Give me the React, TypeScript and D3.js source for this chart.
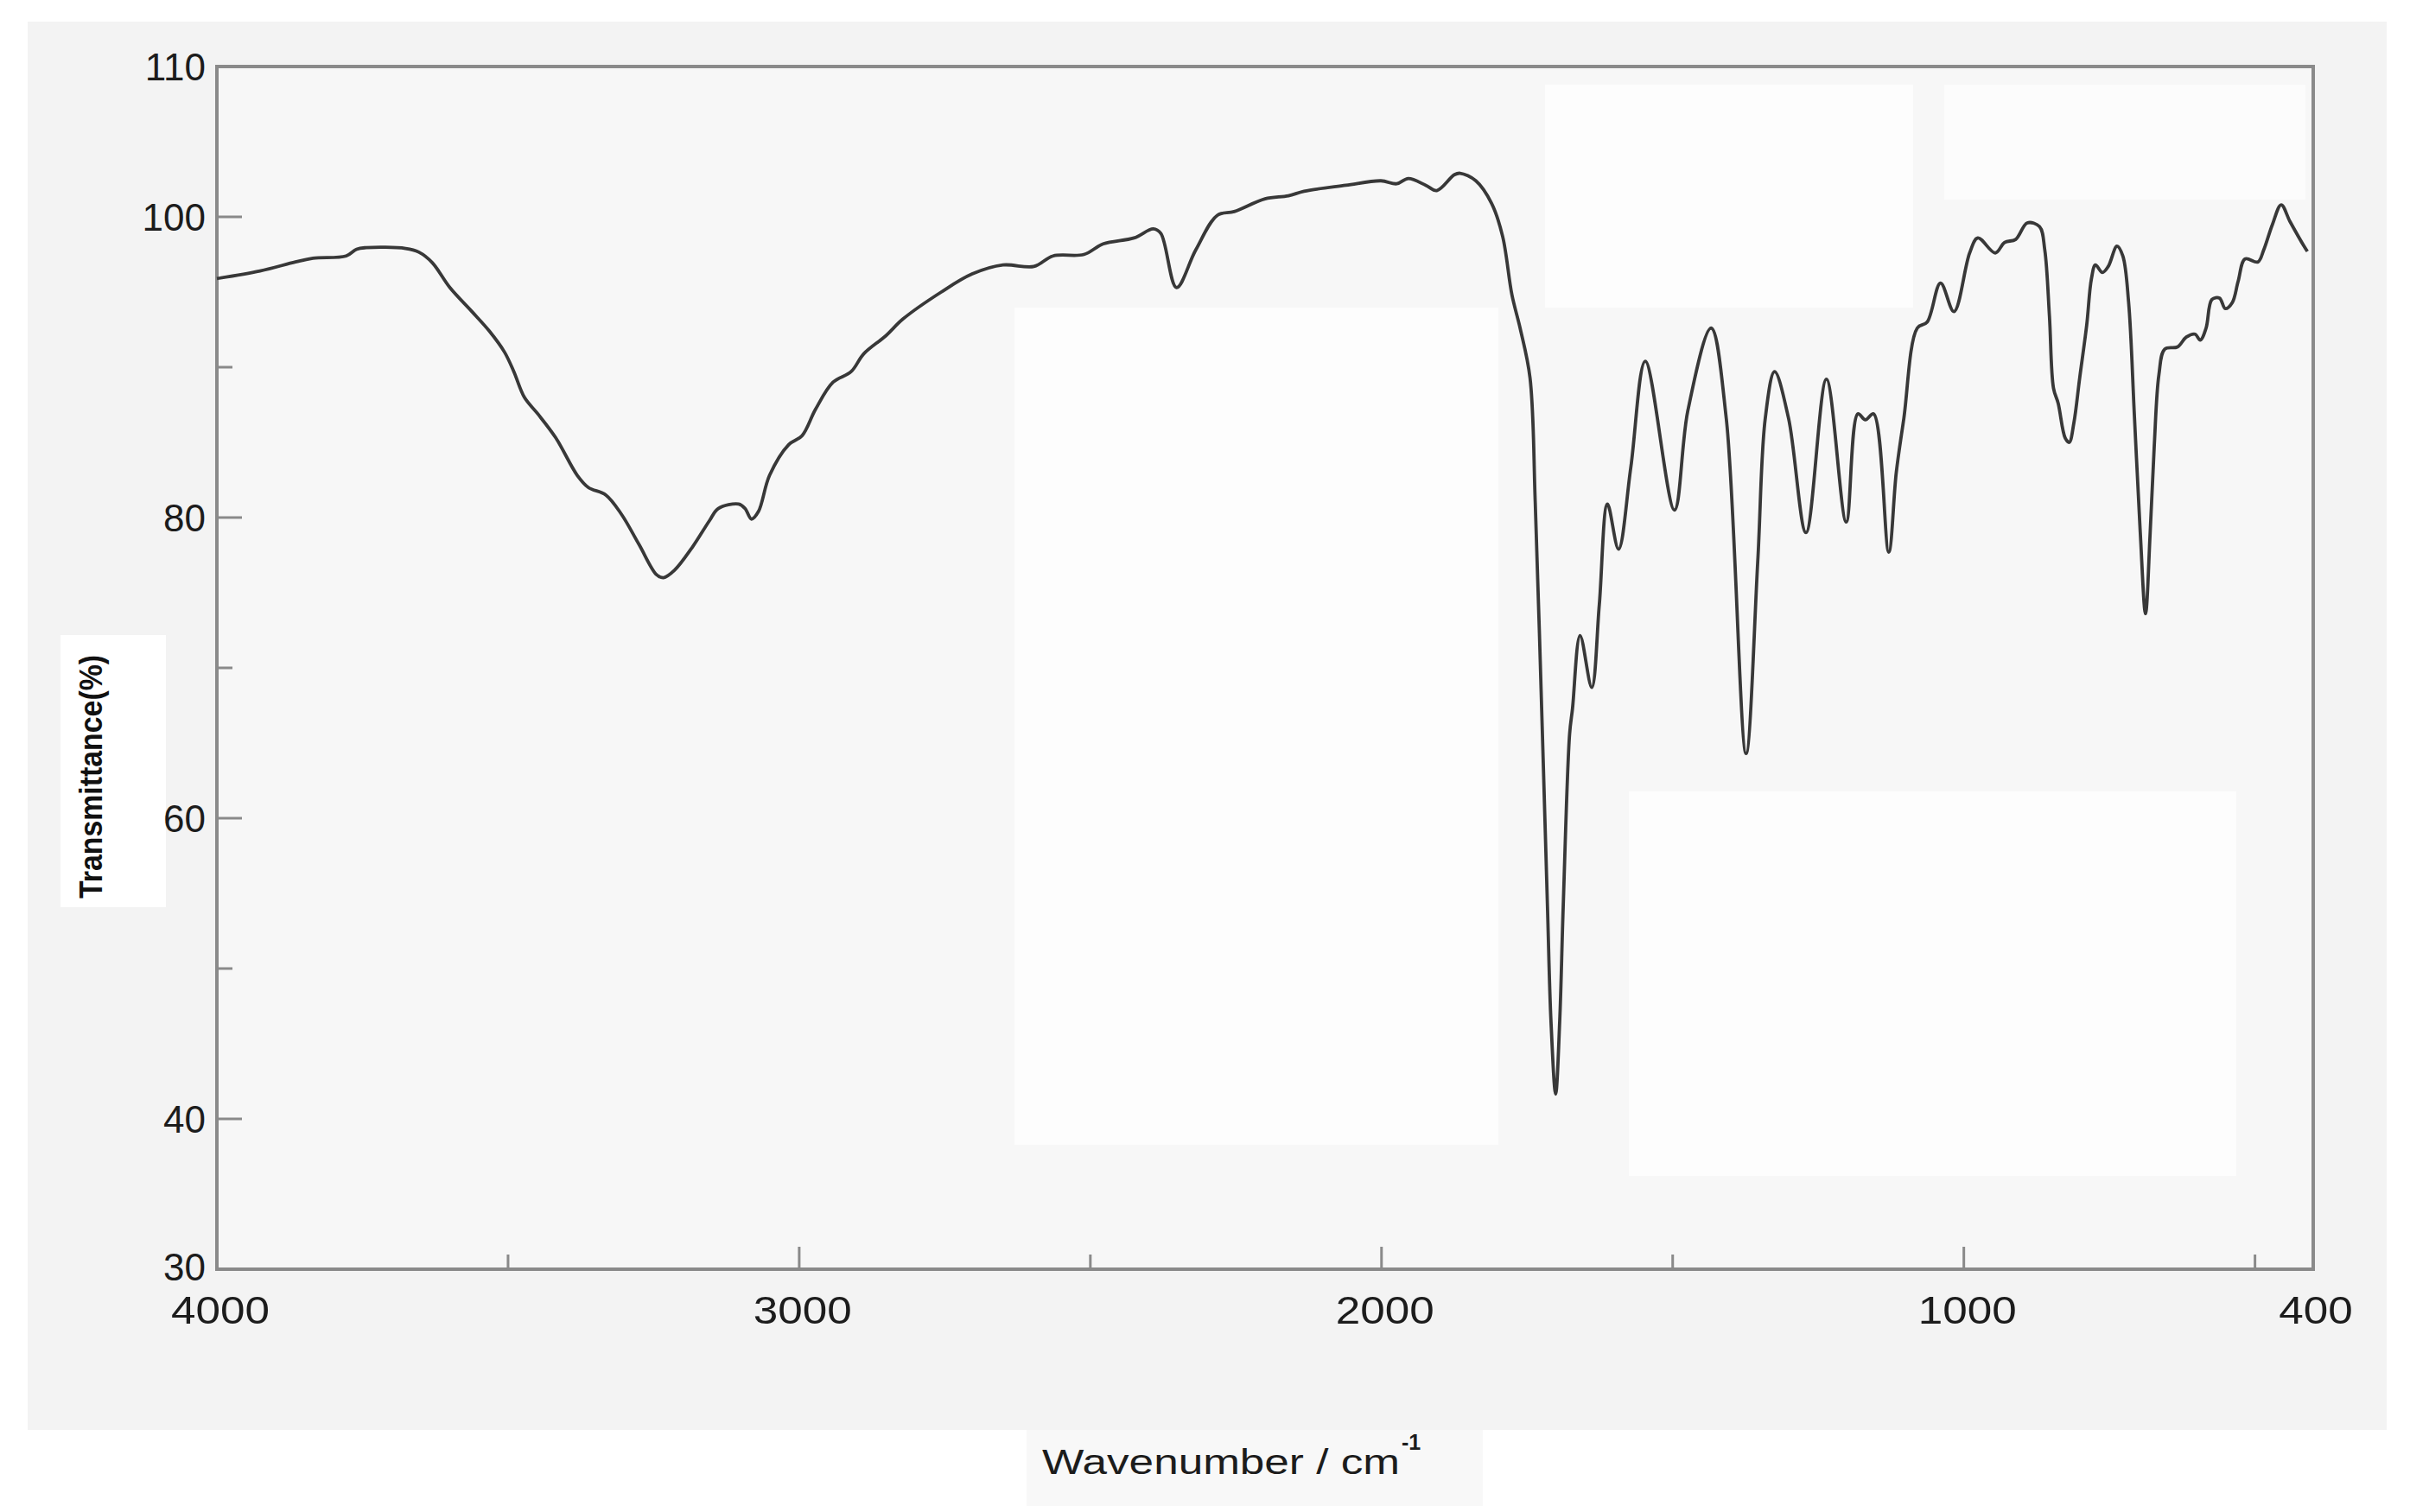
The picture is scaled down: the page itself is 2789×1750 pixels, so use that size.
import React from 'react';
import * as d3 from 'd3';

// IR spectrum (wavenumber in cm^-1, transmittance in %)
const WAVENUMBER = [
  4000, 3926, 3865, 3835, 3778, 3760, 3744, 3676, 3653, 3630,
  3600, 3562, 3532, 3506, 3490, 3472, 3449, 3418, 3381, 3362,
  3332, 3305, 3275, 3245, 3233, 3214, 3184, 3154, 3139, 3104,
  3093, 3082, 3070, 3051, 3018, 2995, 2972, 2942, 2911, 2889,
  2851, 2822, 2756, 2703, 2650, 2597, 2564, 2511, 2478, 2425,
  2392, 2379, 2352, 2319, 2282, 2253, 2200, 2160, 2133, 2061,
  2001, 1974, 1954, 1924, 1905, 1875, 1865, 1838, 1811, 1792,
  1776, 1762, 1745, 1736, 1725, 1715, 1709, 1701, 1694, 1688,
  1677, 1672, 1659, 1639, 1626, 1612, 1593, 1572, 1547, 1497,
  1474, 1434, 1408, 1374, 1354, 1341, 1325, 1301, 1271, 1236,
  1202, 1182, 1169, 1155, 1129, 1116, 1103, 1080, 1063, 1040,
  1017, 990, 976, 946, 930, 911, 891, 870, 861, 853,
  846, 838, 826, 819, 811, 801, 789, 781, 774, 762,
  752, 737, 727, 717, 707, 697, 688, 680, 673, 665,
  655, 633, 618, 603, 594, 584, 574, 561, 551, 539,
  529, 517, 495, 485, 470, 455, 440, 415, 410,
];

const TRANSMITTANCE = [
  95.9, 96.4, 97.0, 97.25, 97.4, 97.85, 97.95, 97.9, 97.65, 96.95,
  95.3, 93.7, 92.4, 91.0, 89.7, 88.0, 86.9, 85.3, 82.8, 82.0,
  81.5, 80.2, 78.2, 76.2, 76.0, 76.5, 78.0, 79.8, 80.6, 80.9,
  80.6, 79.9, 80.4, 82.8, 84.85, 85.45, 87.2, 89.0, 89.7, 90.9,
  92.1, 93.2, 95.0, 96.2, 96.8, 96.7, 97.4, 97.5, 98.2, 98.6,
  99.2, 98.9, 95.3, 97.8, 100.1, 100.35, 101.2, 101.4, 101.7, 102.1,
  102.4, 102.2, 102.55, 102.1, 101.75, 102.8, 102.9, 102.4, 100.9, 98.7,
  94.8, 92.6, 89.3, 81.0, 67.3, 54.1, 46.5, 41.65, 46.5, 54.1,
  65.6, 67.3, 72.15, 68.7, 74.2, 80.9, 77.9, 83.3, 90.4, 80.5,
  87.1, 92.6, 86.6, 64.3, 77.0, 86.6, 89.7, 86.6, 79.0, 89.2,
  79.7, 86.9, 86.5, 86.9, 77.7, 83.0, 86.6, 92.6, 93.0, 95.6,
  93.7, 97.6, 98.6, 97.6, 98.3, 98.5, 99.6, 99.35, 97.8, 93.4,
  88.6, 87.6, 85.3, 85.0, 86.3, 89.3, 92.8, 95.85, 96.8, 96.3,
  96.7, 98.05, 97.4, 94.3, 86.7, 79.0, 73.6, 79.0, 84.75, 89.5,
  91.2, 91.35, 92.0, 92.2, 91.8, 92.6, 94.5, 94.6, 93.9, 94.3,
  95.7, 97.2, 97.0, 97.8, 99.5, 100.8, 99.7, 98.0, 97.7,
];

const X_LABELS = [4000, 3000, 2000, 1000, 400];
const X_MAJOR_TICKS = [3000, 2000, 1000];
const X_MINOR_TICKS = [3500, 2500, 1500, 500];
const Y_LABELS = [110, 100, 80, 60, 40, 30];
const Y_MAJOR_TICKS = [100, 80, 60, 40];
const Y_MINOR_TICKS = [90, 70, 50];

const X_TITLE = 'Wavenumber / cm';
const X_TITLE_SUP = '-1';
const Y_TITLE = 'Transmittance(%)';

export default function App() {
  const W = 2789;
  const H = 1750;
  const x = d3.scaleLinear().domain([4000, 400]).range([251, 2677]);
  const y = d3.scaleLinear().domain([30, 110]).range([1469, 77]);

  const pts: [number, number][] = WAVENUMBER.map((w, i) => [w, TRANSMITTANCE[i]]);
  const line = d3
    .line<[number, number]>()
    .x((d) => x(d[0]))
    .y((d) => y(d[1]))
    .curve(d3.curveCatmullRom.alpha(0.5));

  const x0 = x(4000);
  const x1 = x(400);
  const y0 = y(110);
  const y1 = y(30);

  const axisColor = '#8a8a8a';
  const textColor = '#1c1c1c';
  const font = '"Liberation Sans", Arial, Helvetica, sans-serif';

  return (
    <svg
      width={W}
      height={H}
      viewBox={`0 0 ${W} ${H}`}
      style={{ position: 'absolute', left: 0, top: 0, display: 'block' }}
      xmlns="http://www.w3.org/2000/svg"
    >
      <rect x={0} y={0} width={W} height={H} fill="#ffffff" />
      {/* scanned page background */}
      <rect x={32} y={25} width={2730} height={1630} fill="#f3f3f3" />
      <rect x={x0} y={y0} width={x1 - x0} height={y1 - y0} fill="#f7f7f7" />
      {/* lighter patches of the scan */}
      <rect x={1174} y={356} width={560} height={969} fill="#fdfdfd" />
      <rect x={1788} y={98} width={426} height={258} fill="#fdfdfd" />
      <rect x={1885} y={916} width={703} height={445} fill="#fdfdfd" />
      <rect x={2250} y={98} width={418} height={133} fill="#fcfcfc" />
      <rect x={70} y={735} width={122} height={315} fill="#ffffff" />
      <rect x={1188} y={1655} width={528} height={88} fill="#f8f8f8" />

      {/* frame */}
      <rect
        x={x0}
        y={y0}
        width={x1 - x0}
        height={y1 - y0}
        fill="none"
        stroke={axisColor}
        strokeWidth={4}
      />

      {/* y ticks (inward) */}
      {Y_MAJOR_TICKS.map((v) => (
        <line key={'ym' + v} x1={x0} x2={x0 + 29} y1={y(v)} y2={y(v)} stroke={axisColor} strokeWidth={3} />
      ))}
      {Y_MINOR_TICKS.map((v) => (
        <line key={'yn' + v} x1={x0} x2={x0 + 18} y1={y(v)} y2={y(v)} stroke={axisColor} strokeWidth={3} />
      ))}

      {/* x ticks (inward) */}
      {X_MAJOR_TICKS.map((v) => (
        <line key={'xm' + v} x1={x(v)} x2={x(v)} y1={y1} y2={y1 - 26} stroke={axisColor} strokeWidth={3} />
      ))}
      {X_MINOR_TICKS.map((v) => (
        <line key={'xn' + v} x1={x(v)} x2={x(v)} y1={y1} y2={y1 - 17} stroke={axisColor} strokeWidth={3} />
      ))}

      {/* y tick labels */}
      {Y_LABELS.map((v) => (
        <text
          key={'yl' + v}
          x={x0 - 13}
          y={y(v) + (v === 30 ? 13 : 16)}
          textAnchor="end"
          fontFamily={font}
          fontSize={44}
          fill={textColor}
        >
          {v}
        </text>
      ))}

      {/* x tick labels */}
      {X_LABELS.map((v) => {
        const s = String(v);
        return (
          <text
            key={'xl' + v}
            x={x(v) + (v === 400 ? 3 : 4)}
            y={1532}
            textAnchor="middle"
            fontFamily={font}
            fontSize={45}
            fill={textColor}
            textLength={s.length * 28.5}
            lengthAdjust="spacingAndGlyphs"
          >
            {s}
          </text>
        );
      })}

      {/* spectrum */}
      <path d={line(pts) || ''} fill="none" stroke="#383838" strokeWidth={3.8} strokeLinejoin="round" />

      {/* x axis title */}
      <text
        x={1206}
        y={1706}
        fontFamily={font}
        fontSize={40}
        fill={textColor}
        textLength={414}
        lengthAdjust="spacingAndGlyphs"
      >
        {X_TITLE}
      </text>
      <text x={1622} y={1678} fontFamily={font} fontSize={25} fontWeight="bold" fill={textColor}>
        {X_TITLE_SUP}
      </text>

      {/* y axis title */}
      <text
        transform={`translate(118, 899) rotate(-90)`}
        textAnchor="middle"
        fontFamily={font}
        fontSize={36}
        fontWeight="bold"
        fill="#111111"
        textLength={282}
        lengthAdjust="spacingAndGlyphs"
      >
        {Y_TITLE}
      </text>
    </svg>
  );
}
